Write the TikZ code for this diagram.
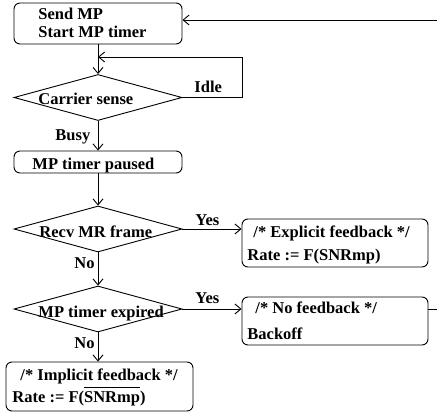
\documentclass[tikz,border=0pt]{standalone}
\usepackage{fontspec}
\setmainfont{Liberation Serif}
\usetikzlibrary{arrows.meta,shapes.geometric}
\begin{document}
\begin{tikzpicture}[x=1pt,y=-1pt,line width=0.9pt,
  font=\fontsize{16.5}{19}\selectfont\bfseries,
  box/.style={draw,rounded corners=6pt,inner sep=0pt,minimum width=#1},
  box/.default=168pt,
  dia/.style={draw,diamond,inner sep=0pt,minimum width=168pt,minimum height=46pt},
  txt/.style={inner sep=0pt,anchor=base west},
  arr/.style={-{Straight Barb[length=6pt,width=10pt]}}]
\useasboundingbox (0,0) rectangle (437,412);
% boxes
\node (send) [box,minimum height=41pt] at (98,23.5) {};
\node (paused) [box,minimum height=22pt] at (98,162) {};
\node (expl) [box=186pt,minimum height=48pt] at (335,243) {};
\node (nofb) [box=186pt,minimum height=48pt] at (335,321) {};
\node (impl) [box=187pt,minimum height=49pt] at (99.5,386.5) {};
% diamonds
\node (cs) [dia] at (98,97.5) {};
\node (recv) [dia] at (98,229) {};
\node (expd) [dia] at (98,309) {};
% texts
\node (t1) [txt] at (38,20) {Send MP};
\node (t2) [txt] at (38,38) {Start MP timer};
\node (t3) [txt] at (32,169) {MP timer paused};
\node (t4) [txt] at (38,105) {Carrier sense};
\node (t5) [txt] at (39,237) {Recv MR frame};
\node (t6) [txt] at (38,317) {MP timer expired};
\node (t7) [txt] at (253,237) {/* Explicit feedback */};
\node (t8) [txt] at (247,260) {Rate := F(SNRmp)};
\node (t9) [txt] at (255,313) {/* No feedback */};
\node (t10) [txt] at (247,339) {Backoff};
\node (t11) [txt] at (20,380) {/* Implicit feedback */};
\node (t12) [txt] at (12,402) {Rate := F(\sbox0{SNRmp}\rlap{\rule[14.5pt]{\wd0}{0.9pt}}\usebox0)};
% labels
\node (lidle) [txt] at (194,93) {Idle};
\node (lbusy) [txt] at (55,140) {Busy};
\node (lyes1) [txt] at (195,225) {Yes};
\node (lno1) [txt] at (74,268) {No};
\node (lyes2) [txt] at (195,303) {Yes};
\node (lno2) [txt] at (74,348) {No};
% connectors
\coordinate (loopc) at (242,57);
\coordinate (rx) at (439,0);
\draw[arr] (send.south) -- (cs.north);
\draw[arr] (cs.east) -- (cs.east -| loopc) -- (loopc) -- (loopc -| send.south);
\draw[arr] (cs.south) -- (paused.north);
\draw[arr] (paused.south) -- (recv.north);
\draw[arr] (recv.east) -- (recv.east -| expl.west);
\draw[arr] (recv.south) -- (expd.north);
\draw[arr] (expd.east) -- (expd.east -| nofb.west);
\draw[arr] (expd.south) -- (expd.south |- impl.north);
\draw[arr] (nofb.east |- expd.east) -- (rx |- expd.east) -- (rx |- 0,20) -- (send.east |- 0,20);
\end{tikzpicture}
\end{document}
